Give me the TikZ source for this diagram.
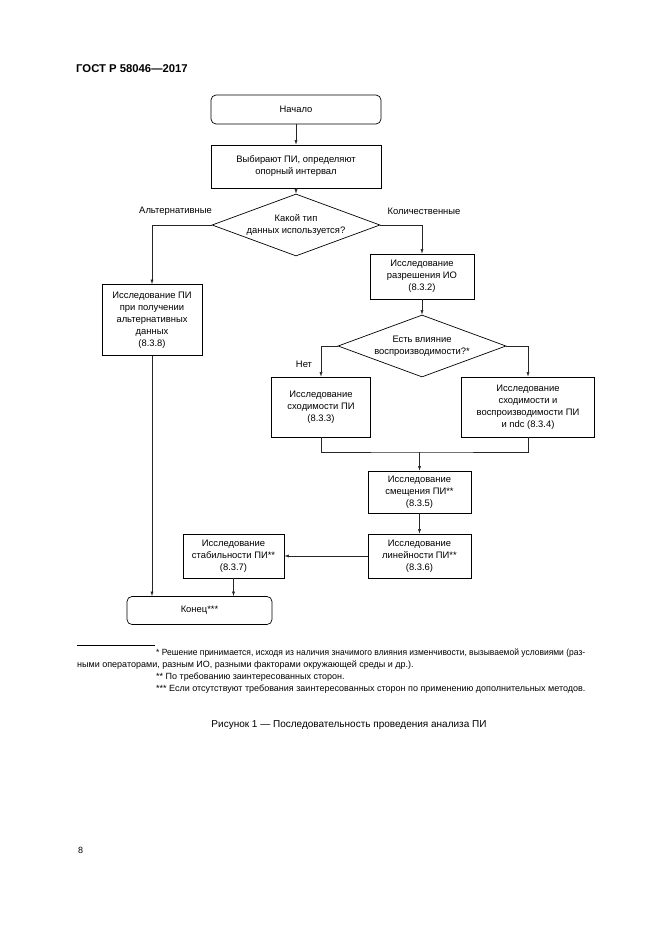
\documentclass[tikz,border=0pt]{standalone}
\usepackage{fontspec}
\setmainfont{Liberation Sans}
\usetikzlibrary{shapes.geometric,arrows.meta}
\newcommand\boxfont{\fontsize{9.4}{12}\selectfont}
\newcommand\notefont{\fontsize{9}{12}\selectfont}
\begin{document}
\begin{tikzpicture}[x=1pt,y=-1pt,
  box/.style={draw, line width=0.7pt, inner sep=1pt, align=center, font=\boxfont},
  term/.style={box, rounded corners=5pt},
  dia/.style={draw, line width=0.7pt, diamond, aspect=2.7, inner sep=-6pt, align=center, font=\boxfont, minimum width=168pt, minimum height=62pt},
  conn/.style={line width=0.5pt, draw=black!85},
  arr/.style={conn, -{Latex[length=4.5pt,width=3pt]}},
  lbl/.style={font=\boxfont, inner sep=0pt},
  note/.style={font=\notefont, inner sep=0pt, anchor=base west}]
\useasboundingbox (0,0) rectangle (661,935);
\fill[white] (0,0) rectangle (661,935);
\node[anchor=base west, inner sep=0pt, font=\bfseries\fontsize{11.3}{13}\selectfont] (hdr) at (76,72) {ГОСТ Р 58046—2017};
\node[term, minimum width=170pt, minimum height=29pt] (start) at (296,109.5) {Начало};
\node[box, minimum width=170pt, minimum height=43pt] (sel) at (296,166.5) {Выбирают ПИ, определяют\\опорный интервал};
\node[dia] (d1) at (296,225) {Какой тип\\данных используется?};
\node[box, minimum width=100pt, minimum height=71pt] (alt) at (152,320) {Исследование ПИ\\при получении\\альтернативных\\данных\\(8.3.8)};
\node[box, minimum width=104pt, minimum height=45pt] (res) at (422,276.5) {Исследование\\разрешения ИО\\(8.3.2)};
\node[dia] (d2) at (422,346) {Есть влияние\\воспроизводимости?*};
\node[box, minimum width=99pt, minimum height=60pt] (conv) at (321,407) {Исследование\\сходимости ПИ\\(8.3.3)};
\node[box, minimum width=133pt, minimum height=60pt] (repr) at (528,407) {Исследование\\сходимости и\\воспроизводимости ПИ\\и ndc (8.3.4)};
\node[box, minimum width=103pt, minimum height=42pt] (bias) at (419.5,492) {Исследование\\смещения ПИ**\\(8.3.5)};
\node[box, minimum width=103pt, minimum height=44pt] (lin) at (419.5,556) {Исследование\\линейности ПИ**\\(8.3.6)};
\node[box, minimum width=101pt, minimum height=44pt] (stab) at (233.5,556) {Исследование\\стабильности ПИ**\\(8.3.7)};
\node[term, minimum width=145pt, minimum height=28pt] (end) at (199.5,610.5) {Конец***};
\node[lbl] (lalt) at (175.5,211) {Альтернативные};
\node[lbl] (lkol) at (424,211) {Количественные};
\node[lbl] (lnet) at (304,364) {Нет};
\draw[arr] (start) -- (sel);
\draw[arr] (sel) -- (d1);
\draw[arr] (d1.west) -| (alt.north);
\draw[arr] (d1.east) -| (res.north);
\draw[arr] (res) -- (d2);
\draw[arr] (d2.west) -| (conv.north);
\draw[arr] (d2.east) -| (repr.north);
\coordinate (mjy) at (0,452);
\coordinate (mj) at (bias.north |- mjy);
\draw[conn] (conv.south) |- (mj) -| (repr.south);
\draw[arr] (mj) -- (bias.north);
\draw[arr] (bias) -- (lin);
\draw[arr] (lin) -- (stab);
\draw[arr] (stab.south) -- (stab.south |- end.north);
\draw[arr] (alt.south) -- (alt.south |- end.north);
\draw[line width=0.5pt] (77,645) -- (155,645);
\node[note] (n1) at (156,655) {\resizebox{429pt}{\height}{* Решение принимается, исходя из наличия значимого влияния изменчивости, вызываемой условиями (раз-}};
\node[note] (n2) at (77,667) {ными операторами, разным ИО, разными факторами окружающей среды и др.).};
\node[note] (n3) at (156,679) {** По требованию заинтересованных сторон.};
\node[note] (n4) at (156,691) {*** Если отсутствуют требования заинтересованных сторон по применению дополнительных методов.};
\node[anchor=base, inner sep=0pt, font=\fontsize{10}{12}\selectfont] (cap) at (349,727) {Рисунок 1 — Последовательность проведения анализа ПИ};
\node[anchor=base west, inner sep=0pt, font=\fontsize{9}{11}\selectfont] (pg) at (78,853) {8};
\end{tikzpicture}
\end{document}
